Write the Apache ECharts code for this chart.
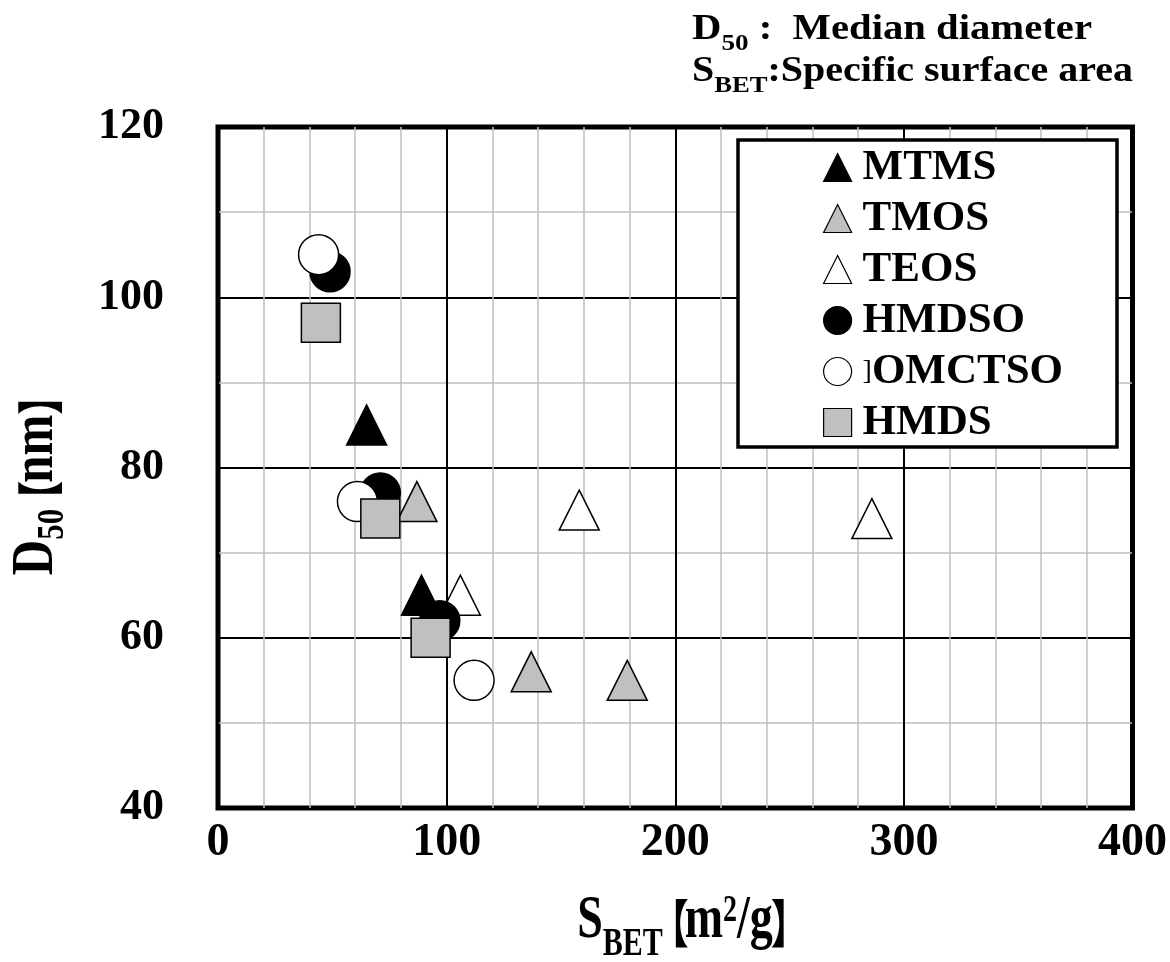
<!DOCTYPE html>
<html>
<head>
<meta charset="utf-8">
<script src="https://cdn.jsdelivr.net/npm/echarts@6/dist/echarts.min.js"></script>
<style>html,body{margin:0;padding:0;background:#fff}#c{width:1170px;height:962px}</style>
</head>
<body>
<div id="c"></div>
<script>
// ---- data (S_BET [m2/g], D50 [nm]) ----
const seriesNames = ['MTMS', 'TMOS', 'TEOS', 'HMDSO', 'OMCTSO', 'HMDS'];
const mtms   = [[65, 85], [89, 65]];
const tmos   = [[87, 76], [137, 56], [179, 55]];
const teos   = [[106, 65], [158, 75], [286, 74]];
const hmdso  = [[49, 103], [71, 77], [97, 62]];
const omctso = [[44, 105], [61, 76], [112, 55]];
const hmds   = [[45, 97], [71, 74], [93, 60]];
const xTicks = [0, 100, 200, 300, 400];
const yTicks = [40, 60, 80, 100, 120];

const FONT = '"Liberation Serif", "Times New Roman", serif';
const CJK = '"Noto Sans CJK JP", "Noto Sans CJK SC", sans-serif';
const GRAY = '#c0c0c0';

function mk(name, data, symbol, fill) {
  return {
    name: name, type: 'scatter', data: data, symbol: symbol,
    symbolSize: symbol === 'rect' ? 39 : 40,
    itemStyle: { color: fill, opacity: 1, borderColor: '#000', borderWidth: 1.5 },
    emphasis: { disabled: true }
  };
}

const nameRich = {
  b: { fontFamily: FONT, fontWeight: 'bold', fontSize: 46, fill: '#000', verticalAlign: 'bottom', lineHeight: 50 },
  sub: { fontFamily: FONT, fontWeight: 'bold', fontSize: 30, fill: '#000', verticalAlign: 'bottom', lineHeight: 50, padding: [0, 0, -10, 0] },
  sup: { fontFamily: FONT, fontWeight: 'bold', fontSize: 28, fill: '#000', verticalAlign: 'bottom', lineHeight: 50, padding: [0, 0, 16, 0] },
  lb: { fontFamily: CJK, fontWeight: 'bold', fontSize: 38, fill: '#000', verticalAlign: 'bottom', lineHeight: 50, padding: [0, -4, 2, -12] },
  rb: { fontFamily: CJK, fontWeight: 'bold', fontSize: 38, fill: '#000', verticalAlign: 'bottom', lineHeight: 50, padding: [0, -14, 2, -2] }
};
const yNameRich = {
  b: { fontFamily: FONT, fontWeight: 'bold', fontSize: 49, fill: '#000', verticalAlign: 'bottom', lineHeight: 50 },
  sub: { fontFamily: FONT, fontWeight: 'bold', fontSize: 31, fill: '#000', verticalAlign: 'bottom', lineHeight: 50, padding: [0, 0, -5, 0] },
  lb: { fontFamily: CJK, fontWeight: 'bold', fontSize: 38, fill: '#000', verticalAlign: 'bottom', lineHeight: 50, padding: [0, -2, 2, -10] },
  rb: { fontFamily: CJK, fontWeight: 'bold', fontSize: 38, fill: '#000', verticalAlign: 'bottom', lineHeight: 50, padding: [0, -14, 2, 0] }
};
const noteRich = {
  b: { fontFamily: FONT, fontWeight: 'bold', fontSize: 36, fill: '#000', verticalAlign: 'bottom', lineHeight: 40 },
  sub: { fontFamily: FONT, fontWeight: 'bold', fontSize: 24, fill: '#000', verticalAlign: 'bottom', lineHeight: 40, padding: [0, 0, -8, 0] }
};

const chart = echarts.init(document.getElementById('c'), null, { renderer: 'canvas' });
chart.setOption({
  animation: false,
  backgroundColor: '#fff',
  grid: { left: 218, right: 37, top: 127, bottom: 154, show: true, borderColor: '#000', borderWidth: 5, backgroundColor: 'transparent' },
  xAxis: {
    type: 'value', min: xTicks[0], max: xTicks[xTicks.length - 1], interval: 100,
    axisLine: { show: false }, axisTick: { show: false },
    axisLabel: { margin: 12, fontFamily: FONT, fontWeight: 'bold', fontSize: 46, color: '#000' },
    splitLine: { show: true, lineStyle: { color: '#000', width: 2 } },
    minorTick: { show: false, splitNumber: 5 },
    minorSplitLine: { show: true, lineStyle: { color: GRAY, width: 1.5 } }
  },
  yAxis: {
    type: 'value', min: yTicks[0], max: yTicks[yTicks.length - 1], interval: 20,
    axisLine: { show: false }, axisTick: { show: false },
    axisLabel: { margin: 54, fontFamily: FONT, fontWeight: 'bold', fontSize: 44, color: '#000' },
    splitLine: { show: true, lineStyle: { color: '#000', width: 2 } },
    minorTick: { show: false, splitNumber: 2 },
    minorSplitLine: { show: true, lineStyle: { color: GRAY, width: 1.5 } }
  },
  legend: {
    orient: 'vertical', left: 823, top: 146, z: 20, padding: 0,
    itemWidth: 28, itemHeight: 28, itemGap: 8, itemStyle: { borderWidth: 1.2 },
    data: seriesNames,
    formatter: function (n) { return n === 'OMCTSO' ? '{sm|]}{t|' + n + '}' : '{t|' + n + '}'; },
    textStyle: {
      padding: [0, 0, 0, 6],
      rich: {
        t: { fontFamily: FONT, fontWeight: 'bold', fontSize: 43, color: '#000', lineHeight: 40 },
        sm: { fontFamily: FONT, fontWeight: 'normal', fontSize: 28, color: '#000', lineHeight: 40 }
      }
    }
  },
  graphic: [
    { type: 'rect', z: 10, shape: { x: 738, y: 140, width: 379, height: 307 },
      style: { fill: '#fff', stroke: '#000', lineWidth: 3.5 } },
    { type: 'text', z: 10, x: 692, y: 8, scaleX: 1.13,
      style: { text: '{b|D}{sub|50}{b| :  Median diameter}', rich: noteRich } },
    { type: 'text', z: 10, x: 692, y: 50, scaleX: 1.11,
      style: { text: '{b|S}{sub|BET}{b|:Specific surface area}', rich: noteRich } },
    // x-axis title
    { type: 'text', z: 10, x: 686, y: 918, scaleY: 1.35,
      style: { text: '{b|S}{sub|BET}{lb|【}{b|m}{sup|2}{b|/g}{rb|】}', rich: nameRich, align: 'center', verticalAlign: 'middle' } },
    // y-axis title
    { type: 'text', z: 10, x: 36, y: 483, rotation: Math.PI / 2, scaleY: 1.22,
      style: { text: '{b|D}{sub|50}{lb|【}{b|nm}{rb|】}', rich: yNameRich, align: 'center', verticalAlign: 'middle' } }
  ],
  series: [
    mk('MTMS', mtms, 'triangle', '#000'),
    mk('TMOS', tmos, 'triangle', GRAY),
    mk('TEOS', teos, 'triangle', '#fff'),
    mk('HMDSO', hmdso, 'circle', '#000'),
    mk('OMCTSO', omctso, 'circle', '#fff'),
    mk('HMDS', hmds, 'rect', GRAY)
  ]
});
</script>
</body>
</html>
